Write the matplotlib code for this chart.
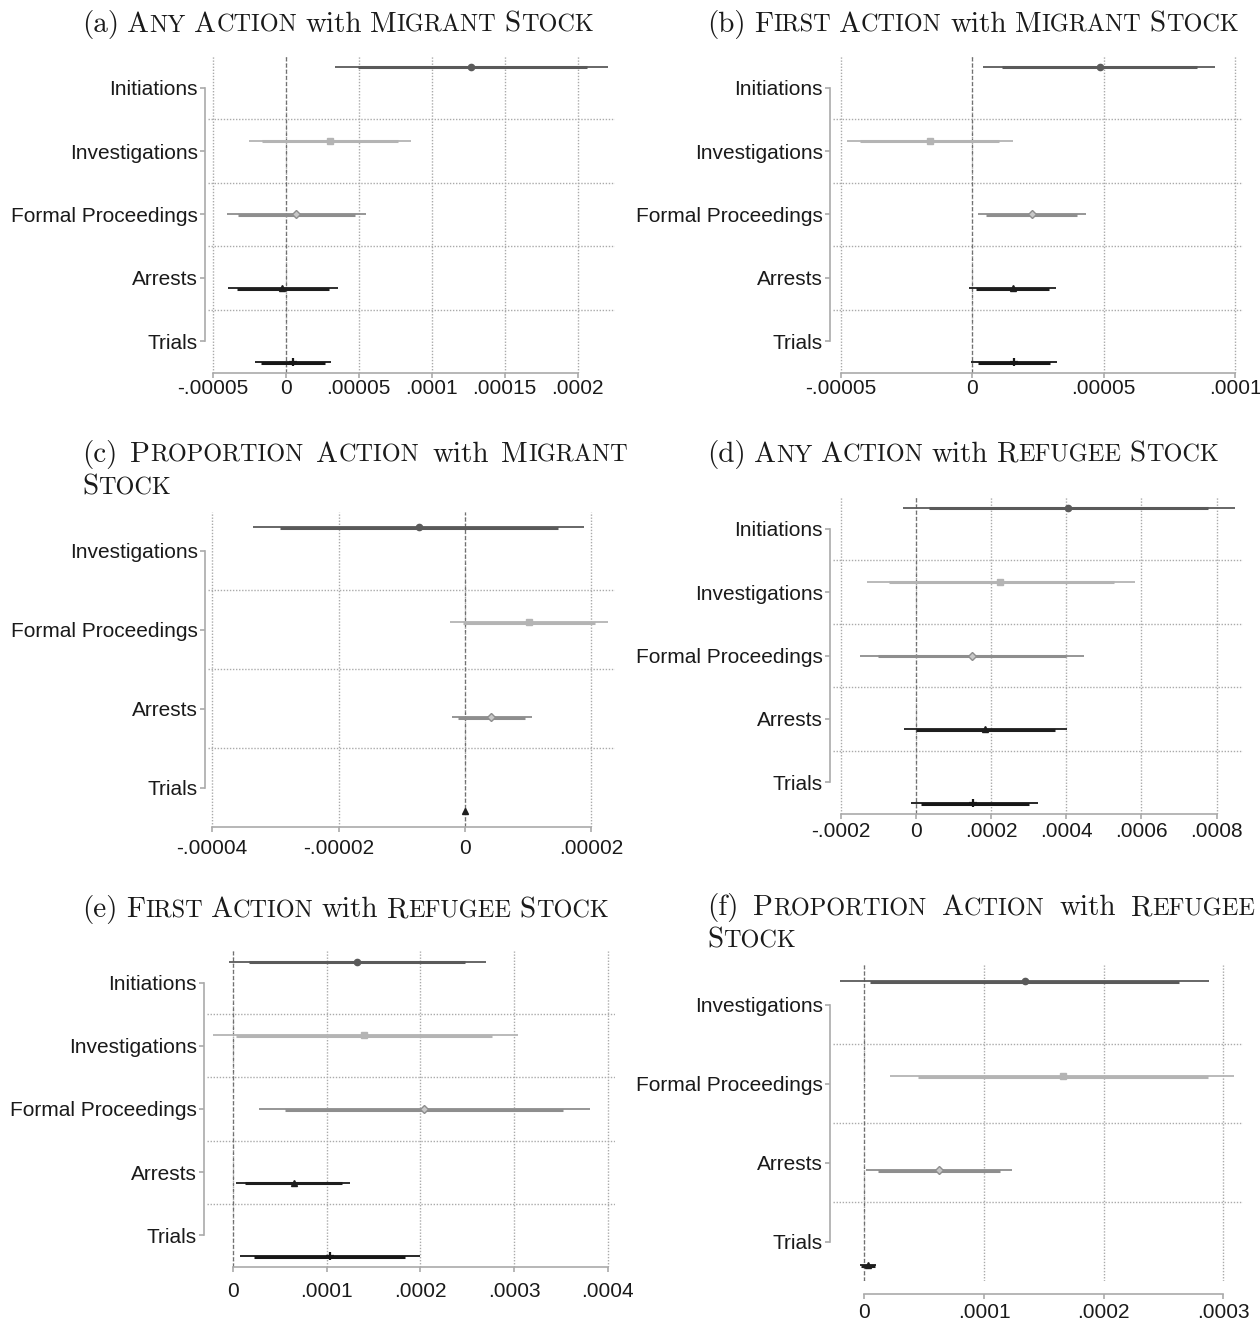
import numpy as np
import matplotlib
matplotlib.use("Agg")
import matplotlib.pyplot as plt
from matplotlib import font_manager
from matplotlib.offsetbox import TextArea, HPacker, VPacker, DrawingArea, AnnotationBbox

W, H, DPI = 1260, 1325, 100

# ---- data ----
cats5 = ["Initiations", "Investigations", "Formal Proceedings", "Arrests", "Trials"]
cats4 = ["Investigations", "Formal Proceedings", "Arrests", "Trials"]

# (a) any action, migrant stock
b_a = [1.272e-4, 3.0e-5, 7.3e-6, -2.3e-6, 5.0e-6]
lo95_a = [3.39e-5, -2.52e-5, -4.05e-5, -3.96e-5, -2.1e-5]
hi95_a = [2.207e-4, 8.58e-5, 5.49e-5, 3.57e-5, 3.09e-5]
lo90_a = [4.92e-5, -1.62e-5, -3.29e-5, -3.34e-5, -1.69e-5]
hi90_a = [2.06e-4, 7.71e-5, 4.76e-5, 2.95e-5, 2.68e-5]

# (b) first action, migrant stock
b_b = [4.84e-5, -1.61e-5, 2.26e-5, 1.54e-5, 1.6e-5]
lo95_b = [4.2e-6, -4.76e-5, 2.3e-6, -1.1e-6, -0.4e-6]
hi95_b = [9.25e-5, 1.55e-5, 4.34e-5, 3.2e-5, 3.24e-5]
lo90_b = [1.14e-5, -4.26e-5, 5.3e-6, 1.5e-6, 2.3e-6]
hi90_b = [8.55e-5, 1.03e-5, 4.0e-5, 2.93e-5, 2.97e-5]

# (c) proportion action, migrant stock
b_c = [-7.3e-6, 1.01e-5, 4.2e-6, 0.0]
lo95_c = [-3.36e-5, -2.4e-6, -2.1e-6, -2e-7]
hi95_c = [1.89e-5, 2.26e-5, 1.06e-5, 2e-7]
lo90_c = [-2.93e-5, -0.3e-6, -1.1e-6, -1.5e-7]
hi90_c = [1.47e-5, 2.06e-5, 9.5e-6, 1.5e-7]

# (d) any action, refugee stock
b_d = [4.06e-4, 2.25e-4, 1.5e-4, 1.85e-4, 1.53e-4]
lo95_d = [-3.46e-5, -1.30e-4, -1.49e-4, -3.2e-5, -1.33e-5]
hi95_d = [8.5e-4, 5.84e-4, 4.46e-4, 4.03e-4, 3.26e-4]
lo90_d = [3.46e-5, -7.2e-5, -1.01e-4, 0.0, 1.33e-5]
hi90_d = [7.78e-4, 5.27e-4, 4.0e-4, 3.69e-4, 3.0e-4]

# (e) first action, refugee stock
b_e = [1.32e-4, 1.40e-4, 2.04e-4, 6.5e-5, 1.03e-4]
lo95_e = [-4.3e-6, -2.17e-5, 2.78e-5, 2.8e-6, 7.1e-6]
hi95_e = [2.70e-4, 3.04e-4, 3.81e-4, 1.25e-4, 2.0e-4]
lo90_e = [1.71e-5, 3.6e-6, 5.56e-5, 1.25e-5, 2.2e-5]
hi90_e = [2.48e-4, 2.77e-4, 3.52e-4, 1.16e-4, 1.84e-4]

# (f) proportion action, refugee stock
b_f = [1.34e-4, 1.66e-4, 6.2e-5, 3.3e-6]
lo95_f = [-2.06e-5, 2.12e-5, 1.1e-6, -3.9e-6]
hi95_f = [2.88e-4, 3.09e-4, 1.23e-4, 1.0e-5]
lo90_f = [4.5e-6, 4.49e-5, 1.14e-5, -2.7e-6]
hi90_f = [2.63e-4, 2.87e-4, 1.13e-4, 9.0e-6]

ticks_a = [-5e-5, 0, 5e-5, 1e-4, 1.5e-4, 2e-4]
labels_a = ["-.00005", "0", ".00005", ".0001", ".00015", ".0002"]
ticks_b = [-5e-5, 0, 5e-5, 1e-4]
labels_b = ["-.00005", "0", ".00005", ".0001"]
ticks_c = [-4e-5, -2e-5, 0, 2e-5]
labels_c = ["-.00004", "-.00002", "0", ".00002"]
ticks_d = [-2e-4, 0, 2e-4, 4e-4, 6e-4, 8e-4]
labels_d = ["-.0002", "0", ".0002", ".0004", ".0006", ".0008"]
ticks_e = [0, 1e-4, 2e-4, 3e-4, 4e-4]
labels_e = ["0", ".0001", ".0002", ".0003", ".0004"]
ticks_f = [0, 1e-4, 2e-4, 3e-4]
labels_f = ["0", ".0001", ".0002", ".0003"]

titles = [
    [["(a)", "Any", "Action", "with", "Migrant", "Stock"]],
    [["(b)", "First", "Action", "with", "Migrant", "Stock"]],
    [["(c)", "Proportion", "Action", "with", "Migrant"], ["Stock"]],
    [["(d)", "Any", "Action", "with", "Refugee", "Stock"]],
    [["(e)", "First", "Action", "with", "Refugee", "Stock"]],
    [["(f)", "Proportion", "Action", "with", "Refugee"], ["Stock"]],
]

# ---- styles ----
colors = ["#5a5a5a", "#b4b4b4", "#8e8e8e", "#1e1e1e", "#161616"]
markers = ["o", "s", "D", "^", "+"]
grid_col = "#aaaaaa"

installed = {f.name for f in font_manager.fontManager.ttflist}
if "Liberation Sans Narrow" in installed:
    plt.rcParams["font.family"] = ["Liberation Sans Narrow", "DejaVu Sans"]
    fs = 18
else:
    plt.rcParams["font.family"] = ["Liberation Sans", "DejaVu Sans"]
    fs = 15

fig = plt.figure(figsize=(W / DPI, H / DPI), dpi=DPI)


def add_ax(x0, x1, y0, y1):
    return fig.add_axes([x0 / W, 1 - y1 / H, (x1 - x0) / W, (y1 - y0) / H])


def coefplot(ax, cats, b, lo95, hi95, lo90, hi90, ticks, labels, xlim, xpad, xout):
    k = len(cats)
    pos = np.arange(1, k + 1)
    for t in ticks:
        ax.axvline(t, color=grid_col, lw=1.0, ls=(0, (1, 1.2)), zorder=1)
    for y in pos[:-1] + 0.5:
        ax.axhline(y, color=grid_col, lw=1.0, ls=(0, (1, 1.2)), zorder=1)
    ax.axvline(0, color="#707070", lw=0.9, ls=(0, (3, 2)), zorder=2)
    for i in range(k):
        y = pos[i] + (i + 1 - (k + 1) / 2) / (k + 1)
        ax.plot([lo95[i], hi95[i]], [y, y], color=colors[i], lw=1.3,
                solid_capstyle="butt", zorder=3)
        ax.plot([lo90[i], hi90[i]], [y + 0.012, y + 0.012], color=colors[i], lw=2.2,
                solid_capstyle="butt", zorder=3)
        if markers[i] == "D":
            ax.plot(b[i], y, marker="D", ms=4, mfc="#c8c8c8", mec=colors[i], mew=1, zorder=4)
        elif markers[i] == "+":
            ax.plot(b[i], y, marker="+", ms=6, mec=colors[i], mew=1.6, zorder=4)
        else:
            ax.plot(b[i], y, marker=markers[i], ms=4.5, mfc=colors[i], mec=colors[i], zorder=4)
    ax.set_ylim(k + 0.5, 0.5)
    ax.set_xlim(*xlim)
    ax.set_yticks(pos, cats)
    ax.set_xticks(ticks, labels)
    for s in ["top", "right"]:
        ax.spines[s].set_visible(False)
    ax.spines["left"].set_position(("outward", 2.2))
    ax.spines["left"].set_bounds(1, k)
    ax.spines["bottom"].set_bounds(ticks[0], ticks[-1])
    ax.spines["bottom"].set_position(("outward", xout))
    for s in ["left", "bottom"]:
        ax.spines[s].set_color(grid_col)
        ax.spines[s].set_linewidth(1.2)
    ax.tick_params(axis="y", length=3.6, width=1.2, color=grid_col, pad=1.5,
                   labelsize=fs, labelcolor="#1a1a1a")
    ax.tick_params(axis="x", length=3.6, width=1.2, color=grid_col, pad=xpad,
                   labelsize=fs, labelcolor="#1a1a1a")


big = dict(family="cmr10", size=21, color="#1a1a1a")
small = dict(family="cmr10", size=17.5, color="#1a1a1a")


def caption(lines, gaps, x, y, line_sep):
    rows = []
    for words, gap in zip(lines, gaps):
        parts = []
        for j, w in enumerate(words):
            if j > 0:
                parts.append(DrawingArea(gap, 0.1))
            if w.startswith("(") or w.islower():
                parts.append(TextArea(w, textprops=big))
            else:
                parts.append(TextArea(w[0], textprops=big))
                parts.append(TextArea(w[1:].upper(), textprops=small))
        rows.append(HPacker(children=parts, align="baseline", pad=0, sep=0))
    box = VPacker(children=rows, align="left", pad=0, sep=line_sep)
    ab = AnnotationBbox(box, (x / W, 1 - y / H), xycoords="figure fraction",
                        box_alignment=(0, 1), frameon=False, pad=0)
    fig.add_artist(ab)


panels = [
    (cats5, b_a, lo95_a, hi95_a, lo90_a, hi90_a, ticks_a, labels_a),
    (cats5, b_b, lo95_b, hi95_b, lo90_b, hi90_b, ticks_b, labels_b),
    (cats4, b_c, lo95_c, hi95_c, lo90_c, hi90_c, ticks_c, labels_c),
    (cats5, b_d, lo95_d, hi95_d, lo90_d, hi90_d, ticks_d, labels_d),
    (cats5, b_e, lo95_e, hi95_e, lo90_e, hi90_e, ticks_e, labels_e),
    (cats4, b_f, lo95_f, hi95_f, lo90_f, hi90_f, ticks_f, labels_f),
]

# axes box in pixels (x0, x1, y0, y1), xlim, tick label pad, x-axis offset
boxes = [
    ((208, 615, 56, 373), (-5.32e-5, 2.255e-4), 0.5, 0),
    ((833, 1243, 56, 373), (-5.3e-5, 1.03e-4), 0.5, 0),
    ((208, 615, 511.5, 827), (-4.065e-5, 2.375e-5), 5, 0),
    ((833, 1243, 497, 814), (-2.2e-4, 8.70e-4), 2, 0),
    ((207, 615, 951, 1267), (-2.78e-5, 4.078e-4), 7, 0),
    ((833, 1243, 965, 1281), (-2.63e-5, 3.166e-4), 3, 9),
]

cap_pos = [(82, 10), (707, 10), (82, 440), (707, 440), (82, 895), (707, 893)]
cap_gaps = [[6], [6], [9.3, 6], [6], [6], [10.8, 6]]

for p, (bx, xl, xpad, xout), (cx, cy), gaps, tl in zip(panels, boxes, cap_pos, cap_gaps, titles):
    ax = add_ax(*bx)
    coefplot(ax, *p, xlim=xl, xpad=xpad, xout=xout)
    caption(tl, gaps, cx, cy, 4)

fig.savefig("out.png", dpi=DPI)
